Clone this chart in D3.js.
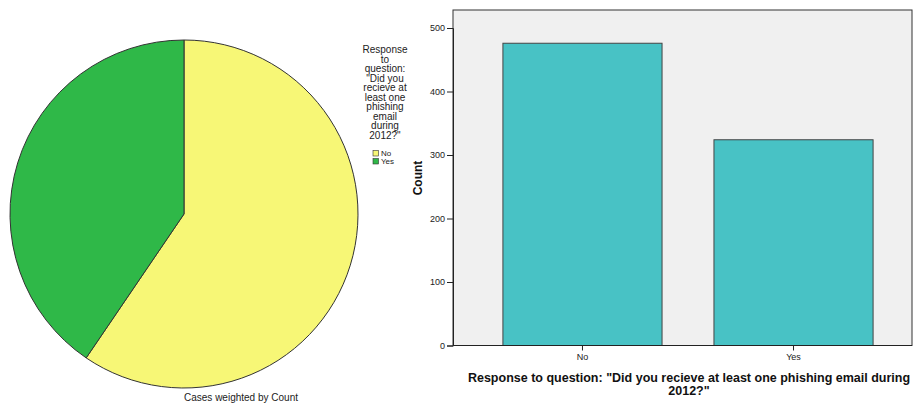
<!DOCTYPE html>
<html>
<head>
<meta charset="utf-8">
<script src="https://cdn.jsdelivr.net/npm/d3@7"></script>
<style>
  body { margin: 0; background: #fff; }
  text { font-family: Arial, "Liberation Sans", sans-serif; }
</style>
</head>
<body>
<div id="chart"></div>
<script>
// data
let categories = ["No", "Yes"];
let counts = [476, 324];
let pieColors = ["#f7f776", "#2fb848"];
let legendTitle = ["Response", "to", "question:", "\"Did you", "recieve at", "least one", "phishing", "email", "during", "2012?\""];
let yTicks = [0, 100, 200, 300, 400, 500];

let width = 914;
let height = 404;

let svg = d3.select("#chart").append("svg")
  .attr("width", width)
  .attr("height", height);

// ---- pie ----
let pieData = d3.pie().sort(null)(counts);
let arc = d3.arc().innerRadius(0).outerRadius(174);

let pieG = svg.append("g").attr("transform", "translate(184,214)");

pieG.selectAll("path")
  .data(pieData)
  .enter()
  .append("path")
  .attr("d", arc)
  .attr("fill", (d, i) => pieColors[i])
  .attr("stroke", "#333")
  .attr("stroke-width", 1);

svg.append("text")
  .attr("x", 241)
  .attr("y", 401)
  .attr("text-anchor", "middle")
  .attr("font-size", 10)
  .attr("fill", "#222")
  .text("Cases weighted by Count");

// legend
svg.append("g")
  .selectAll("text")
  .data(legendTitle)
  .enter()
  .append("text")
  .attr("x", 385)
  .attr("y", (d, i) => 53 + i * 9.5)
  .attr("text-anchor", "middle")
  .attr("font-size", 10)
  .attr("fill", "#222")
  .text(d => d);

let legItems = svg.append("g")
  .selectAll("g")
  .data(categories)
  .enter()
  .append("g")
  .attr("transform", (d, i) => `translate(373,${150.5 + i * 8})`);

legItems.append("rect")
  .attr("width", 5.5)
  .attr("height", 5.5)
  .attr("fill", (d, i) => pieColors[i])
  .attr("stroke", "#333")
  .attr("stroke-width", 0.6);

legItems.append("text")
  .attr("x", 8)
  .attr("y", 5.5)
  .attr("font-size", 8)
  .attr("fill", "#222")
  .text(d => d);

// ---- bar chart ----
let plot = { left: 453, right: 912, top: 10, bottom: 345.5 };

let y = d3.scaleLinear()
  .domain([0, 500])
  .range([plot.bottom, 28]);

let x = d3.scaleBand()
  .domain(categories)
  .range([451, 925])
  .paddingInner(0.246)
  .paddingOuter(0.246);

svg.append("rect")
  .attr("x", plot.left)
  .attr("y", plot.top)
  .attr("width", plot.right - plot.left)
  .attr("height", plot.bottom - plot.top)
  .attr("fill", "#f0f0f0")
  .attr("stroke", "#333")
  .attr("stroke-width", 1);

svg.append("g")
  .selectAll("rect")
  .data(counts)
  .enter()
  .append("rect")
  .attr("x", (d, i) => x(categories[i]))
  .attr("y", d => y(d))
  .attr("width", x.bandwidth())
  .attr("height", d => plot.bottom - y(d))
  .attr("fill", "#48c2c5")
  .attr("stroke", "#444")
  .attr("stroke-width", 1);

let yAxis = svg.append("g")
  .attr("transform", `translate(${plot.left},0)`)
  .call(d3.axisLeft(y).tickValues(yTicks).tickSize(6).tickPadding(2));
yAxis.select(".domain").attr("stroke", "#222");
yAxis.selectAll(".tick line").attr("stroke", "#222");
yAxis.selectAll(".tick text").attr("font-size", 9).attr("fill", "#222")
  .attr("font-family", "Arial, 'Liberation Sans', sans-serif");

let xAxis = svg.append("g")
  .attr("transform", `translate(0,${plot.bottom})`)
  .call(d3.axisBottom(x).tickSize(5).tickPadding(3));
xAxis.select(".domain").attr("stroke", "#222").attr("d", `M${plot.left},0H${plot.right}`);
xAxis.selectAll(".tick line").attr("stroke", "#222");
xAxis.selectAll(".tick text").attr("font-size", 9).attr("fill", "#222")
  .attr("font-family", "Arial, 'Liberation Sans', sans-serif");

svg.append("text")
  .attr("transform", "translate(422,178) rotate(-90)")
  .attr("text-anchor", "middle")
  .attr("font-size", 12)
  .attr("font-weight", "bold")
  .attr("fill", "#111")
  .text("Count");

svg.append("text")
  .attr("x", 689)
  .attr("y", 382)
  .attr("text-anchor", "middle")
  .attr("font-size", 12.5)
  .attr("font-weight", "bold")
  .attr("fill", "#111")
  .text("Response to question: \"Did you recieve at least one phishing email during");

svg.append("text")
  .attr("x", 689)
  .attr("y", 395)
  .attr("text-anchor", "middle")
  .attr("font-size", 12.5)
  .attr("font-weight", "bold")
  .attr("fill", "#111")
  .text("2012?\"");
</script>
</body>
</html>
